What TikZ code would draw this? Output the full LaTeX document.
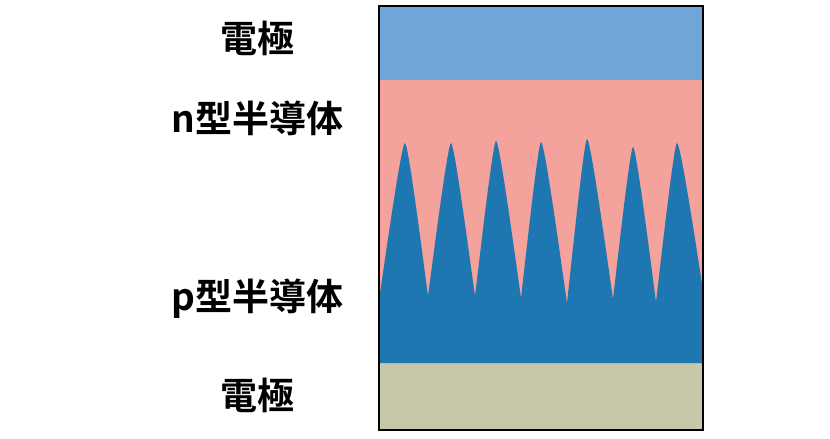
\documentclass[tikz,border=0pt]{standalone}
\usepackage{fontspec}
\newfontfamily\cjk{Noto Sans CJK JP Bold}
\definecolor{elecblue}{RGB}{110,166,216}
\definecolor{ntype}{RGB}{244,162,156}
\definecolor{ptype}{RGB}{30,119,176}
\definecolor{elecbeige}{RGB}{200,200,168}
% one peak: from left valley (#1,#2) over peak (#3,#4) down to right valley (#5,#6)
\newcommand{\wv}[6]{.. controls (#3+0.75*#1-0.75*#3,#4+0.72*#2-0.72*#4) and (#3+0.14*#1-0.14*#3,#4) .. (#3,#4)
  .. controls (#3+0.14*#5-0.14*#3,#4) and (#3+0.75*#5-0.75*#3,#4+0.72*#6-0.72*#4) .. (#5,#6)}
\tikzset{
  lbl/.style={font=\cjk\fontsize{37}{40}\selectfont, text=black, anchor=base, inner sep=0pt},
}
\begin{document}
\begin{tikzpicture}[x=1pt,y=-1pt]
\useasboundingbox (0,0) rectangle (830,439);
\fill[white] (0,0) rectangle (830,439);
% layers
\fill[elecblue] (379,6) rectangle (703,80);
\fill[ntype] (379,80) rectangle (703,363);
\fill[elecbeige] (379,363) rectangle (703,430);
% p-type with interpenetrating peaks
\fill[ptype] (379,363) -- (379,300)
  \wv{379}{300}{405}{143}{428}{296}
  \wv{428}{296}{451}{143}{475}{296}
  \wv{475}{296}{496}{141}{521}{298}
  \wv{521}{298}{541}{142}{567}{303}
  \wv{567}{303}{587}{139}{613}{299}
  \wv{613}{299}{633}{147}{656}{302}
  \wv{656}{302}{677}{143}{703}{290}
  -- (703,363) -- cycle;
\draw[black, line width=1.6pt] (379,6) rectangle (703,430);
% labels
\node[lbl] (e1) at (257.5,52) {電極};
\node[lbl] (n) at (257.5,132) {n型半導体};
\node[lbl] (p) at (257.5,310) {p型半導体};
\node[lbl] (e2) at (257.5,409) {電極};
\end{tikzpicture}
\end{document}
